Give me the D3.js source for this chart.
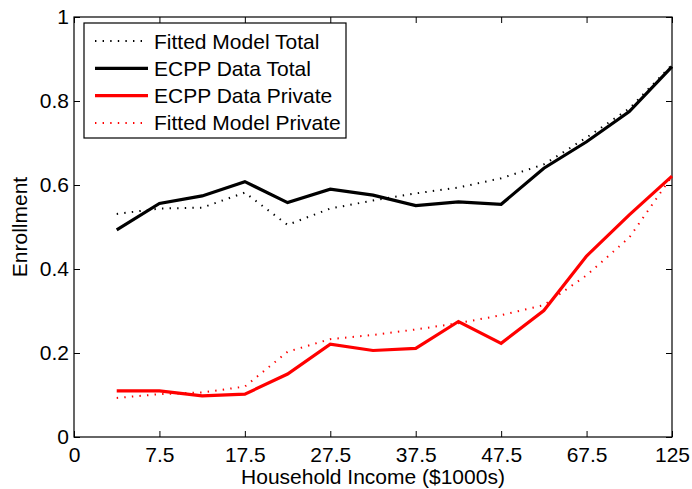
<!DOCTYPE html>
<html><head><meta charset="utf-8">
<script src="https://cdn.jsdelivr.net/npm/d3@7"></script>
<style>body{margin:0;background:#fff;} text{font-family:"Liberation Sans",Arial,sans-serif;}</style>
</head><body><svg id="c" width="692" height="489"></svg>
<script>
const xIndex = [1,2,3,4,5,6,7,8,9,10,11,12,13,14];
const tickPos = [0,2,4,6,8,10,12,14];
const tickLabels = ["0","7.5","17.5","27.5","37.5","47.5","67.5","125"];
const yTicks = [0,0.2,0.4,0.6,0.8,1];
const fittedTotal = [0.531,0.544,0.546,0.582,0.505,0.544,0.563,0.580,0.594,0.616,0.649,0.713,0.782,0.886];
const dataTotal = [0.493,0.556,0.574,0.608,0.558,0.590,0.576,0.551,0.560,0.554,0.640,0.703,0.775,0.882];
const dataPrivate = [0.110,0.110,0.098,0.102,0.150,0.221,0.206,0.211,0.275,0.223,0.301,0.431,0.529,0.621];
const fittedPrivate = [0.093,0.102,0.106,0.120,0.203,0.233,0.243,0.256,0.271,0.290,0.314,0.385,0.475,0.621];
const seriesNames = ["Fitted Model Total","ECPP Data Total","ECPP Data Private","Fitted Model Private"];

const svg = d3.select("#c");
const L=74, R=672, T=17, B=437;
const x = d3.scaleLinear().domain([0,14]).range([L,R]);
const y = d3.scaleLinear().domain([0,1]).range([B,T]);

const series = [
  {name:seriesNames[0], vals:fittedTotal, color:"#000", w:2, dash:"1.4,6.2"},
  {name:seriesNames[1], vals:dataTotal, color:"#000", w:3.2, dash:null},
  {name:seriesNames[2], vals:dataPrivate, color:"#ff0000", w:3.2, dash:null},
  {name:seriesNames[3], vals:fittedPrivate, color:"#ff0000", w:2, dash:"1.4,6.2"}
];

svg.append("rect").attr("x",L).attr("y",T).attr("width",R-L).attr("height",B-T)
  .attr("fill","none").attr("stroke","#000").attr("stroke-width",1.2);

const tl=6;
const xa = svg.append("g").attr("transform",`translate(0,${B})`)
  .call(d3.axisBottom(x).tickValues(tickPos).tickFormat((d,i)=>tickLabels[i]).tickSizeInner(-tl).tickSizeOuter(0).tickPadding(10));
const xt = svg.append("g").attr("transform",`translate(0,${T})`)
  .call(d3.axisTop(x).tickValues(tickPos).tickFormat("").tickSizeInner(-tl).tickSizeOuter(0));
const ya = svg.append("g").attr("transform",`translate(${L},0)`)
  .call(d3.axisLeft(y).tickValues(yTicks).tickFormat(d=>d===0?"0":d===1?"1":d3.format(".1f")(d)).tickSizeInner(-tl).tickSizeOuter(0).tickPadding(5));
const yr = svg.append("g").attr("transform",`translate(${R},0)`)
  .call(d3.axisRight(y).tickValues(yTicks).tickFormat("").tickSizeInner(-tl).tickSizeOuter(0));
[xa,xt,ya,yr].forEach(g=>{
  g.select(".domain").remove();
  g.selectAll("line").attr("stroke","#000").attr("stroke-width",1);
  g.selectAll("text").attr("font-size",21).attr("fill","#000").style("font-family","'Liberation Sans',Arial,sans-serif");
});

const line = d3.line().x((d,i)=>x(xIndex[i])).y(d=>y(d));
series.forEach(s=>{
  svg.append("path").datum(s.vals).attr("d",line).attr("fill","none")
    .attr("stroke",s.color).attr("stroke-width",s.w)
    .attr("stroke-dasharray",s.dash).attr("stroke-linejoin","miter");
});

const lg = svg.append("g");
lg.append("rect").attr("x",84).attr("y",23).attr("width",262).attr("height",115)
  .attr("fill","#fff").attr("stroke","#000").attr("stroke-width",1.2);
series.forEach((s,i)=>{
  const yy = 41 + i*27.3;
  lg.append("line").attr("x1",95).attr("x2",148).attr("y1",yy).attr("y2",yy)
    .attr("stroke",s.color).attr("stroke-width",s.w).attr("stroke-dasharray",s.dash);
  lg.append("text").attr("x",154).attr("y",yy+7.5).attr("font-size",21).text(s.name);
});

svg.append("text").attr("x",(L+R)/2).attr("y",484).attr("text-anchor","middle")
  .attr("font-size",21).text("Household Income ($1000s)");
svg.append("text").attr("transform",`translate(27,${(T+B)/2}) rotate(-90)`).attr("text-anchor","middle")
  .attr("font-size",21).text("Enrollment");
</script></body></html>
